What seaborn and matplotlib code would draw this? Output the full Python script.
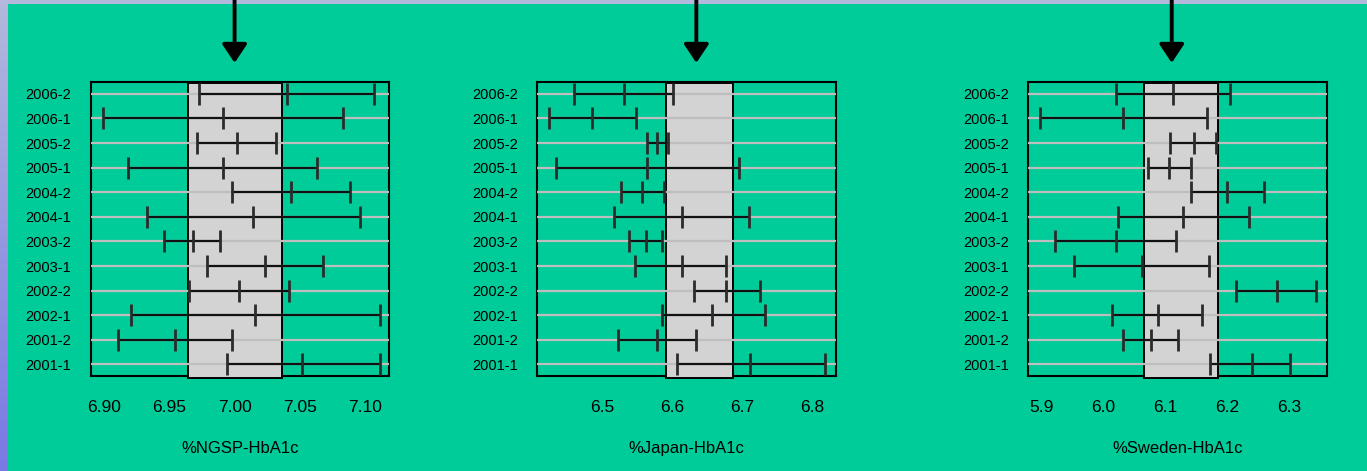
import numpy as np
import pandas as pd
import seaborn as sns
import matplotlib.pyplot as plt
from matplotlib.colors import LinearSegmentedColormap

sns.set_style('white')
plt.rcParams['font.family'] = ['Liberation Sans', 'DejaVu Sans']

# periods, bottom to top
periods = ['2001-1', '2001-2', '2002-1', '2002-2', '2003-1', '2003-2',
           '2004-1', '2004-2', '2005-1', '2005-2', '2006-1', '2006-2']

# NGSP (lower, mean, upper)
ngsp_lo = [6.994, 6.911, 6.921, 6.965, 6.979, 6.946, 6.933, 6.998, 6.918, 6.971, 6.899, 6.973]
ngsp_mid = [7.052, 6.954, 7.016, 7.003, 7.023, 6.968, 7.014, 7.043, 6.991, 7.002, 6.991, 7.040]
ngsp_hi = [7.111, 6.998, 7.111, 7.042, 7.068, 6.989, 7.096, 7.088, 7.063, 7.032, 7.083, 7.107]

# Japan
jp_lo = [6.606, 6.522, 6.585, 6.630, 6.547, 6.538, 6.517, 6.526, 6.433, 6.564, 6.424, 6.459]
jp_mid = [6.711, 6.578, 6.657, 6.676, 6.613, 6.562, 6.613, 6.557, 6.564, 6.578, 6.485, 6.530]
jp_hi = [6.818, 6.634, 6.732, 6.725, 6.676, 6.585, 6.709, 6.588, 6.695, 6.594, 6.548, 6.600]

# Sweden
sw_lo = [6.172, 6.032, 6.014, 6.214, 5.953, 5.922, 6.024, 6.141, 6.072, 6.108, 5.898, 6.020]
sw_mid = [6.239, 6.077, 6.088, 6.280, 6.062, 6.020, 6.129, 6.199, 6.106, 6.146, 6.032, 6.112]
sw_hi = [6.301, 6.120, 6.159, 6.343, 6.170, 6.117, 6.235, 6.259, 6.141, 6.182, 6.167, 6.204]

labels = ['%NGSP-HbA1c', '%Japan-HbA1c', '%Sweden-HbA1c']
bands = [(6.964, 7.036), (6.591, 6.686), (6.066, 6.184)]
arrow_x = [7.00, 6.634, 6.11]
xlims = [(6.8898, 7.1184), (6.4067, 6.8333), (5.8785, 6.3603)]
xticks = [[6.90, 6.95, 7.00, 7.05, 7.10], [6.5, 6.6, 6.7, 6.8], [5.9, 6.0, 6.1, 6.2, 6.3]]
xticklabels = [['6.90', '6.95', '7.00', '7.05', '7.10'], ['6.5', '6.6', '6.7', '6.8'],
               ['5.9', '6.0', '6.1', '6.2', '6.3']]
series = [(ngsp_lo, ngsp_mid, ngsp_hi), (jp_lo, jp_mid, jp_hi), (sw_lo, sw_mid, sw_hi)]

green = '#00CC99'
fig = plt.figure(figsize=(13.67, 4.71), dpi=100, facecolor=green)

# slide-like border strips
bg = fig.add_axes([0, 0, 1, 1], zorder=-5)
bg.axis('off')
grad = np.linspace(0, 1, 200).reshape(-1, 1)
cmap = LinearSegmentedColormap.from_list('strip', ['#B4B8DC', '#7A78E4'])
bg.imshow(grad, cmap=cmap, extent=[0, 8, 471, 0], aspect='auto')
bg.add_patch(plt.Rectangle((0, 0), 1367, 4, color='#B4B8DC', lw=0))
bg.set_xlim(0, 1367)
bg.set_ylim(471, 0)

lefts = [90.7, 537.3, 1028.3]
for i in range(3):
    lo, mid, hi = series[i]
    df = pd.DataFrame({'period': periods, 'lo': lo, 'mid': mid, 'hi': hi})
    df['y'] = np.arange(len(periods))
    long = df.melt(id_vars=['period', 'y'], value_vars=['lo', 'mid', 'hi'],
                   var_name='stat', value_name='value')

    ax = fig.add_axes([lefts[i] / 1367, 1 - 376 / 471, 298.5 / 1367, 294 / 471])
    ax.set_facecolor('none')

    # reference band
    ax.axvspan(bands[i][0], bands[i][1], ymin=-0.006, ymax=0.996, facecolor='#D3D3D3',
               edgecolor='black', lw=1.4, zorder=3, clip_on=False)
    # grid lines
    for y in df['y']:
        ax.axhline(y, color='#BEBEBE', lw=1.6, zorder=3.5)
    # intervals
    ax.hlines(df['y'], df['lo'], df['hi'], color='#111111', lw=1.6, zorder=4)
    sns.scatterplot(data=long, x='value', y='y', marker='|', s=270, color='#2b2b2b',
                    linewidth=2, ax=ax, zorder=5, legend=False)

    ax.set_xlim(*xlims[i])
    ax.set_ylim(-0.47, 11.48)
    ax.set_yticks(df['y'])
    ax.set_yticklabels(periods, fontsize=10.5)
    ax.set_xticks(xticks[i])
    ax.set_xticklabels(xticklabels[i], fontsize=12.5)
    ax.set_xlabel(labels[i], fontsize=12, labelpad=19, color='black')
    ax.set_ylabel('')
    ax.tick_params(axis='both', direction='out', colors='black', width=1.4)
    ax.tick_params(axis='y', length=7, pad=7)
    ax.tick_params(axis='x', length=6, pad=11)
    for sp in ax.spines.values():
        sp.set_color('black')
        sp.set_linewidth(1.5)
        sp.set_zorder(2.5)

    ax.annotate('', xy=(arrow_x[i], 1.065), xycoords=('data', 'axes fraction'),
                xytext=(arrow_x[i], 1.30), textcoords=('data', 'axes fraction'),
                arrowprops=dict(arrowstyle='-|>,head_length=0.75,head_width=0.5',
                                mutation_scale=15, lw=2.8, color='black',
                                shrinkA=0, shrinkB=0),
                annotation_clip=False)

fig.savefig('out.png', dpi=100, facecolor=green)
